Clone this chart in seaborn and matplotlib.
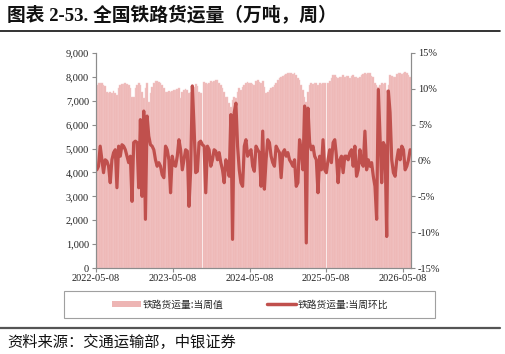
import matplotlib
matplotlib.use("Agg")
import matplotlib.pyplot as plt
import matplotlib.dates as mdates
from matplotlib.patches import Patch, Rectangle
from matplotlib.lines import Line2D
from matplotlib.ticker import FuncFormatter, FixedLocator
import seaborn as sns
import numpy as np
import pandas as pd

# ---------------- data ----------------
freight = [
    7660, 7750, 7750, 7750, 7660, 7620, 7380, 7310, 7380, 7310,
    7420, 7310, 7240, 7520, 7660, 7700, 7700, 7730, 7700, 7660,
    7520, 7170, 7170, 7520, 7660, 7750, 7660, 7380, 7100, 7520,
    7730, 6960, 7310, 7590, 7750, 7840, 7840, 7800, 7750, 7660,
    7520, 7380, 7380, 7420, 7380, 7410, 7450, 7450, 7480, 7520,
    7100, 7380, 7450, 7480, 7450, 7310, 7380, 7480, 7590, 7700,
    7620, 7380, 7310, None, 7800, 7750, 7700, 7730, 7840, 7800,
    7840, 7890, 7870, 7750, 7660, 7520, 7380, 7170, 7170, 6890,
    6750, 7030, 7170, 7100, 7380, 7520, 7450, 7590, 7660, 7730,
    7800,
    7730, 7750, 7700, 7660, 7840, 7870, 7800, 7730, 7840, 7590,
    7310, 7380, 7450, 7520, 7590, 7660, 7730, 7870, 7940, 8010,
    8030, 8080, 8120, 8170, 8150, 8150, 8120, 8150, 8080, 7940,
    7870, 7660, 7450, 7170, 6960, 7380, 7660, 7730, 7700, 7730,
    7750, 7660, 7730, 7700, 7730, 7750, None, 7750, 7840, 7940,
    8080, 8080, 8010, 7940, 8010, 8010, 8080, 8010, 8030, 8030,
    7940, 8030, 8080, 8010, 8010, 7940, 8010, 8080, 8120, 8150,
    8120, 8170, 8150, 8030, 8010, 7730, 7660, 7590, 7660, 7730,
    7700, 7750, 7450, 7660, 8080, 8030, 8010, 8010, 8120, 8150,
    8170, 8120, 8170, 8210, 8150, 8080, 8010,
]

wow = [
    -1.3, -0.8, 2.0, 0.1, -1.7, 0.1, -0.1, -0.8, -3.1, 0.1,
    1.1, 1.5, -3.8, 2.0, 0.6, 2.2, 2.0, 1.5, 0.6, -0.3,
    0.6, -5.7, 2.5, 2.7, 2.5, -3.8, 5.7, -5.0, 6.9, -8.2,
    6.2, 3.4, 2.2, 2.0, 1.5, 0.1, -0.8, -0.3, -0.8, -2.0,
    -2.4, 2.0, 1.5, 0.1, -4.5, 0.6, -0.6, -0.8, 0.6, 2.9,
    1.5, -1.3, 0.1, 1.5, 1.3, -6.4, -1.3, 10.4, 4.8, -1.7,
    -1.5, 2.5, 2.7, 2.2, 2.0, -4.5, 2.0, 1.5, -0.8, 0.1,
    1.5, 1.3, 0.1, 1.1, -0.3, -1.3, -3.1, 0.1, -0.8, -2.2,
    6.4, -11.0, 6.7, 8.0, 2.0, -1.3, -3.1, -3.6, 2.0, 2.9,
    0.6,
    1.1, 1.5, -0.8, -1.5, 2.0, 1.5, 1.1, -3.6, 4.1, -4.0,
    0.1, 2.9, 2.5, 0.6, -0.3, -0.8, 2.0, 1.5, 1.1, -2.4,
    1.1, 1.5, 0.6, 1.1, 0.1, -0.3, -0.8, 0.1, -3.6, -3.1,
    2.9, 1.5, -1.3, 7.6, -11.5, 7.3, 2.5, 1.5, 2.0, 0.6,
    0.1, -4.5, 0.6, -1.3, 2.9, -1.3, -1.7, 0.1, 1.5, -0.3,
    2.5, 2.9, 0.6, -3.1, 0.1, 0.6, -1.7, 0.6, 0.6, 0.1,
    1.1, 1.5, -0.8, 2.0, -2.2, -1.3, 1.5, -0.3, -0.8, 4.1,
    -1.3, 0.1, -0.8, -0.3, -2.2, -3.6, -8.2, 9.9, 3.4, -3.1,
    2.5, 2.0, -10.6, 9.7, 6.7, 0.1, -1.7, -2.2, 0.1, 1.5,
    0.1, 2.0, 1.5, -1.3, -0.8, 0.1, 1.5,
]

tick_dates = ["2022-05-08", "2023-05-08", "2024-05-08", "2025-05-08", "2026-05-08"]
series_names = ["铁路货运量:当周值", "铁路货运量:当周环比"]
title = "图表 2-53. 全国铁路货运量（万吨，周）"
source = "资料来源：交通运输部，中银证券"

# ---------------- style ----------------
BAR = "#EDB5B4"
BAR_EDGE = "#F3CACA"
LINE = "#C0504D"
SPINE = "#8C8C8C"
CJK = "Noto Sans CJK SC"

sns.set_theme(style="white")
plt.rcParams["font.family"] = ["Liberation Serif", CJK, "DejaVu Sans"]
plt.rcParams["axes.unicode_minus"] = False

n = len(wow)
start = pd.Timestamp("2022-05-08")
span_days = 1500
dates = start + pd.to_timedelta((np.arange(n) + 0.5) * span_days / n, unit="D")
xnum = mdates.date2num(dates.to_pydatetime())
df = pd.DataFrame({"x": xnum, "freight": pd.array(freight, dtype="Float64").astype(float),
                   "wow": wow})

fig = plt.figure(figsize=(5.05, 3.54), dpi=100)
ax = fig.add_axes([96 / 505, 1 - 268 / 354, 315 / 505, 215 / 354])

sns.barplot(data=df, x="x", y="freight", native_scale=True, color=BAR, width=1.0,
            saturation=1, errorbar=None, edgecolor=BAR_EDGE, linewidth=0.3, ax=ax)

xlim = (mdates.date2num(start.to_pydatetime()),
        mdates.date2num((start + pd.Timedelta(days=span_days)).to_pydatetime()))
ax.set_xlim(*xlim)
ax.set_ylim(0, 9000)
ax.set_yticks(np.arange(0, 9001, 1000))
ax.yaxis.set_major_formatter(FuncFormatter(lambda v, p: f"{v:,.0f}"))

tick_pos = mdates.date2num(pd.to_datetime(tick_dates).to_pydatetime())
ax.xaxis.set_major_locator(FixedLocator(tick_pos))
ax.set_xticklabels(tick_dates)

ax2 = ax.twinx()
sns.lineplot(data=df, x="x", y="wow", ax=ax2, color=LINE, linewidth=2.3)
ax2.set_ylim(-15, 15)
ax2.set_yticks(np.arange(-15, 16, 5))
ax2.yaxis.set_major_formatter(FuncFormatter(lambda v, p: f"{v:.0f}%"))
ax2.set_xlim(*xlim)

for a in (ax, ax2):
    a.set_xlabel("")
    a.set_ylabel("")
    a.spines["top"].set_visible(False)
    for s in ("left", "right", "bottom"):
        a.spines[s].set_color(SPINE)
        a.spines[s].set_linewidth(0.8)

ax.tick_params(axis="y", left=True, direction="out", length=3, width=0.8, color=SPINE,
               labelsize=7.5, pad=2, labelcolor="#222222")
ax.tick_params(axis="x", bottom=True, direction="out", length=3, width=0.8, color=SPINE,
               labelsize=7.5, pad=1, labelcolor="#222222")
ax2.tick_params(axis="y", right=True, direction="out", length=3, width=0.8, color=SPINE,
                labelsize=7.5, pad=2, labelcolor="#222222")

# title and rules
fig.text(7 / 505, 1 - 15 / 354, title, fontsize=13.5, fontweight="bold",
         va="center", ha="left", color="#111111")
fig.add_artist(Line2D([0, 500 / 505], [1 - 31 / 354] * 2, color="#111111", lw=1.2,
                      transform=fig.transFigure))
fig.add_artist(Line2D([0, 500 / 505], [1 - 328 / 354] * 2, color="#555555", lw=1.6,
                      transform=fig.transFigure))

# legend
fig.add_artist(Rectangle((64 / 505, 1 - 318 / 354), 371 / 505, 27 / 354, fill=False,
                         edgecolor="#A0A0A0", lw=0.8, transform=fig.transFigure))
handles = [Patch(facecolor=BAR, edgecolor="none"), Line2D([], [], color=LINE, lw=2.5)]
fig.legend(handles, series_names, loc="center", bbox_to_anchor=(250 / 505, 1 - 304.5 / 354),
           ncol=2, frameon=False, handlelength=3.0, handleheight=0.5, handletextpad=0.2,
           columnspacing=4.4, prop={"family": [CJK], "size": 7})

fig.text(7 / 505, 1 - 342 / 354, source, fontsize=11, va="center", ha="left",
         family=[CJK], style="italic", color="#111111")

fig.savefig("out.png", dpi=100)
